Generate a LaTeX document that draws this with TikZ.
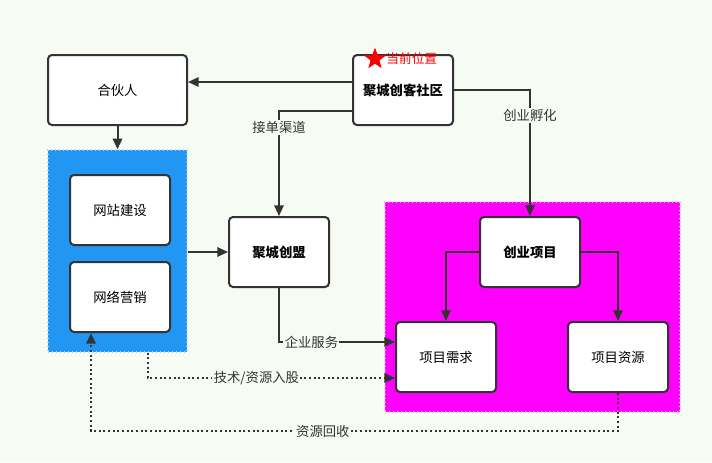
\documentclass[tikz,border=0pt]{standalone}
\usepackage{fontspec}
\setmainfont{Noto Sans CJK SC}
\definecolor{jcBack}{RGB}{246,251,243}
\definecolor{jcLine}{RGB}{51,51,51}
\definecolor{jcBlue}{RGB}{33,150,243}
\definecolor{jcPink}{RGB}{255,0,255}
\usetikzlibrary{arrows.meta,positioning,shapes.geometric,calc}
\tikzset{
  jcbox/.style={rectangle, rounded corners=3pt, draw=jcLine, fill=white,
                line width=1.5pt, minimum width=75pt, minimum height=52.5pt,
                font=\fontsize{10}{12}\selectfont},
  jcbold/.style={jcbox, font=\fontsize{10}{12}\selectfont\bfseries},
  jcarrow/.style={draw=jcLine, line width=1.5pt,
                  -{Triangle[width=7pt,length=8pt]}},
  jcdots/.style={jcarrow, line width=1.5pt, dotted},
  jclabel/.style={fill=jcBack, inner sep=1pt, text=jcLine,
                  font=\fontsize{10}{12}\selectfont}
}

\begin{document}
\begin{tikzpicture}[x=0.75pt, y=-0.75pt]
  \useasboundingbox[fill=jcBack] (0,0) rectangle (712,462);

  % regions
  \node[rectangle, fill=jcBlue, draw=jcBlue!40, dotted, line width=1pt,
        minimum width=104.25pt, minimum height=151.5pt] (web) at (117.5,251) {};
  \node[rectangle, fill=jcPink, draw=white!70!jcPink, dotted, line width=1pt,
        minimum width=221.25pt, minimum height=157.5pt] (proj) at (532.5,307) {};

  % boxes
  \node[jcbox, minimum width=104.25pt] (hehuo) at (117.5,90) {合伙人};
  \node[jcbold] (shequ) at (403,90) {聚城创客社区};
  \node[jcbox] (jianshe) at (120,210) {网站建设};
  \node[jcbox] (yingxiao) at (120,297) {网络营销};
  \node[jcbold] (chuangmeng) at (279,252) {聚城创盟};
  \node[jcbold] (xiangmu) at (530,252) {创业项目};
  \node[jcbox] (xuqiu) at (446,357) {项目需求};
  \node[jcbox] (ziyuan) at (618,357) {项目资源};

  % current position
  \node[star, star points=5, star point ratio=2.4, fill=red, inner sep=0pt,
        minimum size=17pt] (star) at (375,59) {};
  \node[text=red, font=\fontsize{9.5}{11}\selectfont, right=0pt of star] (here) {当前位置};

  % solid connectors
  \draw[jcarrow] ([yshift=6pt]shequ.west) -- ([yshift=6pt]hehuo.east);
  \draw[jcarrow] ([yshift=-15.75pt]shequ.west) -| node[jclabel, pos=0.58] {接单渠道} (chuangmeng.north);
  \draw[jcarrow] (shequ.east) -| node[jclabel, pos=0.6] {创业孵化} (xiangmu.north);
  \draw[jcarrow] (hehuo.south) -- (web.north);
  \draw[jcarrow] (web.east |- chuangmeng.west) -- (chuangmeng.west);
  \draw[jcarrow] (chuangmeng.south) |- node[jclabel, pos=0.64] {企业服务} ([yshift=11.25pt]xuqiu.west);
  \draw[jcarrow] (xiangmu.west) -| (xuqiu.north);
  \draw[jcarrow] (xiangmu.east) -| (ziyuan.north);

  % dotted connectors
  \draw[jcdots] ([xshift=22.5pt]web.south) |- node[jclabel, pos=0.72] {技术/资源入股} ([yshift=-15.75pt]xuqiu.west);
  \coordinate (back) at (91,431);
  \draw[jcdots] (ziyuan.south) |- node[jclabel, pos=0.78] {资源回收} (back)
    -- ([xshift=-21.75pt]yingxiao.south);
\end{tikzpicture}
\end{document}
